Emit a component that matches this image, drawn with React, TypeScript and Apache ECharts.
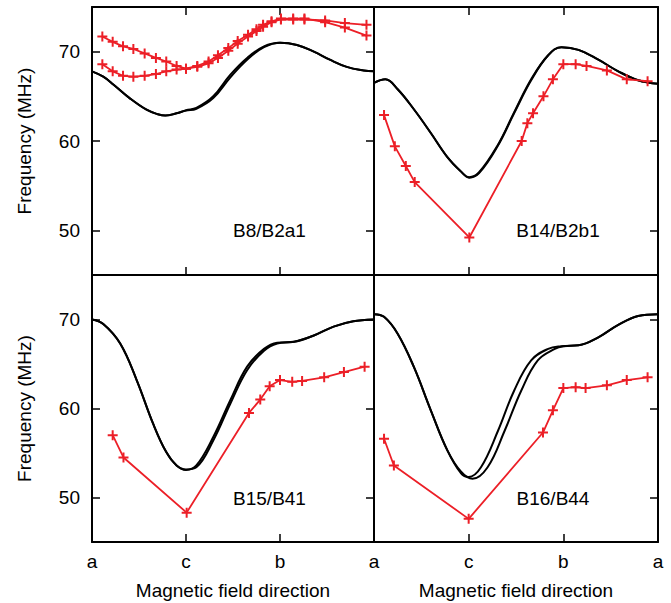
import React, { useEffect, useRef } from 'react';
import * as echarts from 'echarts';

// ---- tick labels / texts ----
const xTickLabels = ['a', 'c', 'b', 'a'];
const yTickValues = [50, 60, 70];
const panelLabels = ['B8/B2a1', 'B14/B2b1', 'B15/B41', 'B16/B44'];
const xAxisTitle = 'Magnetic field direction';
const yAxisTitle = 'Frequency (MHz)';

// ---- B8/B2a1 (top left) ----
const tlCalcX = [0, 0.12, 0.23, 0.4, 0.58, 0.7, 0.78, 0.9, 1.0, 1.11, 1.29, 1.47, 1.65, 1.83, 2.0, 2.18, 2.36, 2.53, 2.71, 2.89, 3.0];
const tlCalc1 = [67.8, 67.2, 66.3, 64.8, 63.5, 63.0, 62.85, 63.1, 63.45, 63.7, 65.0, 67.4, 69.3, 70.6, 71.0, 70.75, 70.0, 69.1, 68.3, 67.9, 67.8];
const tlCalc2 = [67.8, 67.2, 66.3, 64.8, 63.5, 63.0, 62.85, 63.1, 63.4, 63.6, 64.8, 67.1, 69.1, 70.5, 71.0, 70.75, 70.0, 69.1, 68.3, 67.9, 67.8];
const tlMeasX = [0.11, 0.22, 0.33, 0.44, 0.56, 0.68, 0.79, 0.9, 1.0, 1.12, 1.24, 1.34, 1.45, 1.55, 1.66, 1.75, 1.82, 1.91, 2.01, 2.14, 2.26, 2.48, 2.69, 2.92];
const tlMeasA = [71.7, 71.1, 70.6, 70.3, 69.8, 69.3, 68.9, 68.4, 68.1, 68.3, 68.7, 69.3, 70.1, 70.9, 71.7, 72.3, 72.8, 73.3, 73.6, 73.6, 73.6, 73.5, 73.2, 73.0];
const tlMeasB = [68.6, 67.8, 67.3, 67.2, 67.3, 67.5, 67.8, 68.0, 68.1, 68.4, 68.9, 69.6, 70.4, 71.2, 71.9, 72.5, 73.0, 73.4, 73.7, 73.7, 73.7, 73.3, 72.7, 71.8];

// ---- B14/B2b1 (top right) ----
const trCalcX = [0, 0.12, 0.25, 0.425, 0.6, 0.775, 0.917, 1.005, 1.11, 1.305, 1.48, 1.66, 1.84, 1.98, 2.16, 2.37, 2.58, 2.79, 3.0];
const trCalc1 = [66.5, 66.9, 65.8, 63.5, 60.9, 58.2, 56.6, 55.9, 56.4, 59.4, 63.1, 66.8, 69.6, 70.5, 70.2, 69.1, 67.8, 66.8, 66.4];
const trCalc2 = [66.5, 66.9, 65.8, 63.5, 60.9, 58.2, 56.6, 55.95, 56.5, 59.5, 63.2, 66.9, 69.6, 70.5, 70.2, 69.1, 67.8, 66.8, 66.4];
const trMeasX = [0.106, 0.22, 0.336, 0.43, 1.007, 1.56, 1.62, 1.68, 1.79, 1.89, 2.0, 2.13, 2.245, 2.46, 2.67, 2.89];
const trMeas = [62.9, 59.4, 57.2, 55.4, 49.2, 60.0, 62.0, 63.1, 65.0, 66.9, 68.6, 68.6, 68.4, 67.9, 66.9, 66.7];

// ---- B15/B41 (bottom left) ----
const blCalcX = [0, 0.12, 0.3, 0.475, 0.65, 0.79, 0.9, 1.0, 1.11, 1.29, 1.47, 1.65, 1.83, 1.97, 2.15, 2.36, 2.57, 2.78, 3.0];
const blCalc1 = [70.0, 69.5, 67.3, 63.2, 58.3, 55.1, 53.6, 53.1, 53.6, 56.8, 60.9, 64.7, 66.7, 67.4, 67.5, 68.2, 69.2, 69.8, 70.0];
const blCalc2 = [70.0, 69.5, 67.3, 63.2, 58.3, 55.1, 53.6, 53.15, 53.4, 56.4, 60.5, 64.3, 66.5, 67.3, 67.5, 68.2, 69.2, 69.8, 70.0];
const blMeasX = [0.22, 0.335, 1.007, 1.67, 1.79, 1.89, 2.0, 2.13, 2.235, 2.47, 2.68, 2.9];
const blMeas = [57.0, 54.5, 48.3, 59.5, 61.0, 62.5, 63.2, 63.0, 63.1, 63.5, 64.1, 64.7];

// ---- B16/B44 (bottom right) ----
const brCalcX1 = [0, 0.106, 0.25, 0.42, 0.6, 0.775, 0.92, 1.0, 1.13, 1.31, 1.48, 1.66, 1.84, 1.98, 2.16, 2.37, 2.58, 2.79, 3.0];
const brCalc1 = [70.6, 70.3, 68.4, 64.7, 59.8, 55.3, 52.7, 52.3, 53.4, 57.5, 62.0, 65.4, 66.7, 67.0, 67.1, 68.0, 69.4, 70.4, 70.6];
const brCalcX2 = [0, 0.106, 0.25, 0.42, 0.6, 0.775, 0.92, 1.04, 1.2, 1.38, 1.555, 1.73, 1.91, 2.0, 2.16, 2.37, 2.58, 2.79, 3.0];
const brCalc2 = [70.6, 70.3, 68.4, 64.7, 59.8, 55.3, 52.9, 52.1, 53.4, 57.5, 62.0, 65.4, 66.7, 67.0, 67.1, 68.0, 69.4, 70.4, 70.6];
const brMeasX = [0.106, 0.21, 1.0, 1.785, 1.89, 2.0, 2.13, 2.235, 2.46, 2.67, 2.89];
const brMeas = [56.6, 53.6, 47.6, 57.3, 59.8, 62.3, 62.4, 62.3, 62.6, 63.2, 63.5];

const RED = '#ec1f27';
const FONT = '"Liberation Sans", Arial, Helvetica, sans-serif';
const CROSS = 'path://M-1,-5L1,-5L1,-1L5,-1L5,1L1,1L1,5L-1,5L-1,1L-5,1L-5,-1L-1,-1Z';

const zip = (xs: number[], ys: number[]) => xs.map((x, i) => [x, ys[i]]);

interface Panel {
  grid: { left: number; top: number; width: number; height: number };
  calc: [number[], number[]][];
  meas: [number[], number[]][];
  label: string;
  labelPos: [number, number];
  xLabels: boolean;
  yLabels: boolean;
  topTicks: boolean;
  leftTicks: boolean;
  hideFirstX: boolean;
}

const panels: Panel[] = [
  {
    grid: { left: 92, top: 7, width: 282, height: 268 },
    calc: [[tlCalcX, tlCalc1], [tlCalcX, tlCalc2]],
    meas: [[tlMeasX, tlMeasA], [tlMeasX, tlMeasB]],
    label: panelLabels[0], labelPos: [269.5, 230],
    xLabels: false, yLabels: true, topTicks: true, leftTicks: true, hideFirstX: false,
  },
  {
    grid: { left: 374, top: 7, width: 284, height: 268 },
    calc: [[trCalcX, trCalc1], [trCalcX, trCalc2]],
    meas: [[trMeasX, trMeas]],
    label: panelLabels[1], labelPos: [558, 230],
    xLabels: false, yLabels: false, topTicks: true, leftTicks: false, hideFirstX: true,
  },
  {
    grid: { left: 92, top: 275, width: 282, height: 267 },
    calc: [[blCalcX, blCalc1], [blCalcX, blCalc2]],
    meas: [[blMeasX, blMeas]],
    label: panelLabels[2], labelPos: [269.5, 498],
    xLabels: true, yLabels: true, topTicks: false, leftTicks: true, hideFirstX: false,
  },
  {
    grid: { left: 374, top: 275, width: 284, height: 267 },
    calc: [[brCalcX1, brCalc1], [brCalcX2, brCalc2]],
    meas: [[brMeasX, brMeas]],
    label: panelLabels[3], labelPos: [553, 498],
    xLabels: true, yLabels: false, topTicks: false, leftTicks: false, hideFirstX: true,
  },
];

const axisLine = { show: true, onZero: false, lineStyle: { color: '#000', width: 2 } };
const tick = (show: boolean) => ({ show, inside: true, length: 8, lineStyle: { color: '#000', width: 1.5 } });

function buildOption() {
  const grid: any[] = [];
  const xAxis: any[] = [];
  const yAxis: any[] = [];
  const series: any[] = [];
  const graphic: any[] = [];

  panels.forEach((p, i) => {
    grid.push({ ...p.grid, containLabel: false });
    const xBase = {
      gridIndex: i, type: 'value', min: 0, max: 3, interval: 1,
      splitLine: { show: false }, axisLine,
    };
    xAxis.push({
      ...xBase,
      position: 'bottom',
      axisTick: tick(true),
      axisLabel: {
        show: p.xLabels,
        margin: 10,
        fontSize: 19,
        fontFamily: FONT,
        color: '#000',
        showMinLabel: true,
        showMaxLabel: true,
        formatter: (v: number) => {
          const idx = Math.round(v);
          if (p.hideFirstX && idx === 0) return '';
          return xTickLabels[idx] ?? '';
        },
      },
      name: p.xLabels ? xAxisTitle : '',
      nameLocation: 'middle',
      nameGap: 39,
      nameTextStyle: { fontSize: 19, fontFamily: FONT, color: '#000' },
    });
    xAxis.push({
      ...xBase,
      position: 'top',
      axisTick: tick(p.topTicks),
      axisLabel: { show: false },
    });
    const yBase = {
      gridIndex: i, type: 'value', min: 45, max: 75,
      splitLine: { show: false }, axisLine,
    };
    yAxis.push({
      ...yBase,
      position: 'left',
      axisTick: { ...tick(p.leftTicks), customValues: yTickValues },
      axisLabel: {
        show: p.yLabels,
        customValues: yTickValues,
        margin: 12,
        fontSize: 19,
        fontFamily: FONT,
        color: '#000',
      },
      name: p.yLabels ? yAxisTitle : '',
      nameLocation: 'middle',
      nameGap: 58,
      nameTextStyle: { fontSize: 19, fontFamily: FONT, color: '#000' },
    });
    yAxis.push({
      ...yBase,
      position: 'right',
      axisTick: { ...tick(true), customValues: yTickValues },
      axisLabel: { show: false },
    });

    p.calc.forEach(([xs, ys]) => {
      series.push({
        type: 'line',
        xAxisIndex: i * 2,
        yAxisIndex: i * 2,
        data: zip(xs, ys),
        smooth: 0.4,
        showSymbol: false,
        symbol: 'none',
        lineStyle: { color: '#000', width: 2 },
        z: 2,
      });
    });
    p.meas.forEach(([xs, ys]) => {
      series.push({
        type: 'line',
        xAxisIndex: i * 2,
        yAxisIndex: i * 2,
        data: zip(xs, ys),
        symbol: CROSS,
        symbolSize: 10,
        showSymbol: true,
        itemStyle: { color: RED },
        lineStyle: { color: RED, width: 1.8 },
        z: 3,
      });
    });

    graphic.push({
      type: 'text',
      x: p.labelPos[0],
      y: p.labelPos[1],
      style: {
        text: p.label,
        fontSize: 19,
        fontFamily: FONT,
        fill: '#000',
        textAlign: 'center',
        textVerticalAlign: 'middle',
      },
      z: 10,
    });
  });

  return {
    animation: false,
    backgroundColor: '#fff',
    grid,
    xAxis,
    yAxis,
    series,
    graphic,
  };
}

export default function App() {
  const ref = useRef<HTMLDivElement>(null);
  useEffect(() => {
    document.body.style.margin = '0';
    if (!ref.current) return;
    const chart = echarts.init(ref.current, undefined, { renderer: 'svg' });
    chart.setOption(buildOption() as any);
    return () => chart.dispose();
  }, []);
  return <div ref={ref} style={{ width: 671, height: 603 }} />;
}
